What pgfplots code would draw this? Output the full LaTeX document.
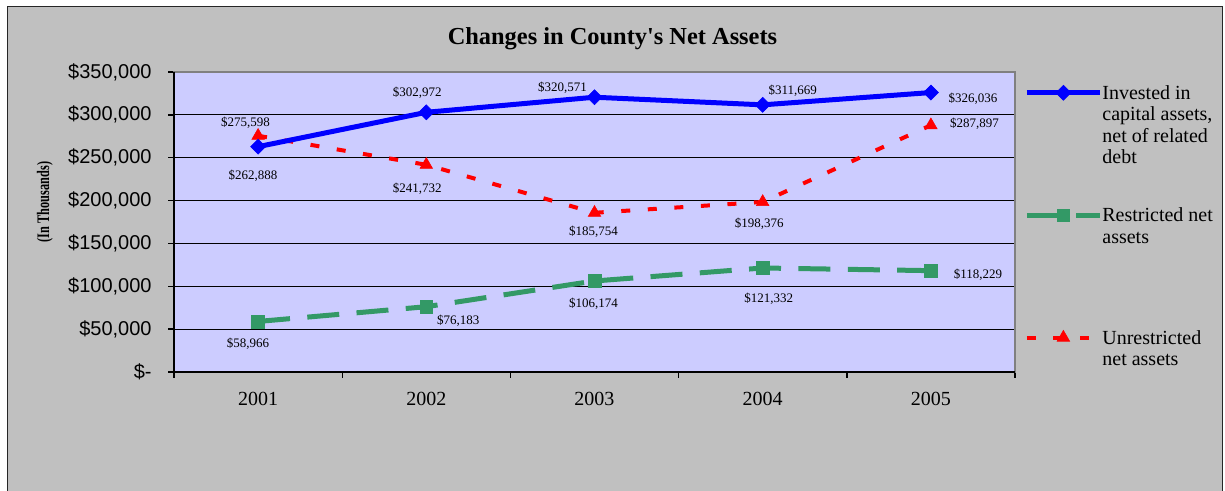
\documentclass[border=0pt]{standalone}
\usepackage{fontspec}
\setmainfont{Liberation Serif}
\newfontfamily\arialfont{Liberation Sans}
\usepackage{pgfplots}
\pgfplotsset{compat=1.18}
\definecolor{bgray}{HTML}{C0C0C0}
\definecolor{plotbg}{HTML}{CCCCFF}
\definecolor{sgreen}{HTML}{339966}
\definecolor{xblue}{HTML}{0000FF}
\definecolor{xred}{HTML}{FF0000}
\tikzset{dl/.style={font=\fontsize{6.5}{7}\selectfont, inner sep=0pt, anchor=center}}
\newcommand{\legtext}[1]{\raisebox{0pt}[9pt][5pt]{\parbox[t]{60pt}{#1}}}
\begin{document}
\begin{tikzpicture}[x=1pt,y=1pt]
\useasboundingbox (0,0) rectangle (612.5,245.5);
\fill[white] (0,0) rectangle (612.5,245.5);
\draw[fill=bgray, draw=black!85, line width=0.8pt] (3.65,-10) rectangle (611.3,242.2);
\node[font=\bfseries\fontsize{12.2}{14}\selectfont, anchor=base, inner sep=0pt] at (306.25,223) {Changes in County\textquotesingle s Net Assets};
\begin{axis}[
  at={(87pt,59.5pt)}, anchor=south west,
  scale only axis, width=420.5pt, height=150pt,
  xmin=0.5, xmax=5.5, ymin=0, ymax=350000,
  xtick={1,2,3,4,5}, xticklabels={2001,2002,2003,2004,2005},
  minor xtick={0.5,1.5,2.5,3.5,4.5,5.5},
  ytick={0,50000,100000,150000,200000,250000,300000,350000},
  yticklabels={{\$-},{\$50,000},{\$100,000},{\$150,000},{\$200,000},{\$250,000},{\$300,000},{\$350,000}},
  scaled y ticks=false,
  tick pos=left, tick align=outside,
  major tick length=3pt, minor tick length=3pt,
  major x tick style={draw=none},
  tick style={black, line width=0.7pt},
  minor tick style={black, line width=0.7pt},
  ymajorgrids, major grid style={black, line width=0.5pt},
  axis background/.style={fill=plotbg},
  axis line style={draw=gray, line width=1pt},
  yticklabel style={font=\arialfont\fontsize{10}{12}\selectfont, inner sep=0pt, xshift=-8pt},
  xticklabel style={font=\fontsize{10}{12}\selectfont, inner sep=0pt, yshift=-7pt},
  ylabel={(In Thousands)},
  every axis y label/.style={at={(axis description cs:-0.1534,0.567)}, rotate=90, xscale=0.7, anchor=center, font=\bfseries\fontsize{8.8}{10}\selectfont, inner sep=0pt},
  clip=false,
  reverse legend,
  legend image code/.code={\draw[mark repeat=2, mark phase=2] plot coordinates {(0pt,3.3pt) (18.25pt,3.3pt) (36.5pt,3.3pt)};},
  legend style={at={(axis description cs:1.0107,0.97)}, anchor=north west, draw=none, fill=none, inner sep=0pt, column sep=0pt, row sep=50.7pt, cells={anchor=base west}, nodes={inner sep=0pt}, font=\fontsize{10}{10.7}\selectfont},
  after end axis/.code={\draw[black, line width=1pt] (rel axis cs:0,1) -- (rel axis cs:0,0) -- (rel axis cs:1,0);},
]
\addplot[xred, line width=2pt, dash pattern=on 4.5pt off 8.8pt, mark=triangle*, mark size=3.6pt, mark options={solid, line width=0.3pt}]
  coordinates {(1,275598) (2,241732) (3,185754) (4,198376) (5,287897)};
\addlegendentry{\legtext{Unrestricted\\net assets}}
\addplot[sgreen, line width=2.5pt, dash pattern=on 16pt off 8.7pt, mark=square*, mark size=3.2pt, mark options={solid, line width=0.3pt}]
  coordinates {(1,58966) (2,76183) (3,106174) (4,121332) (5,118229)};
\addlegendentry{\legtext{Restricted net\\assets}}
\addplot[xblue, line width=2.5pt, mark=square*, mark size=2.65pt, mark options={solid, rotate=45, line width=0.3pt}]
  coordinates {(1,262888) (2,302972) (3,320571) (4,311669) (5,326036)};
\addlegendentry{\legtext{Invested in\\capital assets,\\net of related\\debt}}
% data labels
\node[dl, xshift=-2.5pt, yshift=-14.5pt] at (axis cs:1,262888) {\$262,888};
\node[dl, xshift=-4.5pt, yshift=10pt] at (axis cs:2,302972) {\$302,972};
\node[dl, xshift=-16pt, yshift=4.5pt] at (axis cs:3,320571) {\$320,571};
\node[dl, xshift=15pt, yshift=7pt] at (axis cs:4,311669) {\$311,669};
\node[dl, xshift=21pt, yshift=-3.25pt] at (axis cs:5,326036) {\$326,036};
\node[dl, xshift=-6.25pt, yshift=6.5pt] at (axis cs:1,275598) {\$275,598};
\node[dl, xshift=-4.5pt, yshift=-12pt] at (axis cs:2,241732) {\$241,732};
\node[dl, xshift=-0.5pt, yshift=-9.5pt] at (axis cs:3,185754) {\$185,754};
\node[dl, xshift=-1.75pt, yshift=-11pt] at (axis cs:4,198376) {\$198,376};
\node[dl, xshift=21.75pt, yshift=0.6pt] at (axis cs:5,287897) {\$287,897};
\node[dl, xshift=-5pt, yshift=-11.25pt] at (axis cs:1,58966) {\$58,966};
\node[dl, xshift=16pt, yshift=-7.15pt] at (axis cs:2,76183) {\$76,183};
\node[dl, xshift=-0.5pt, yshift=-11.5pt] at (axis cs:3,106174) {\$106,174};
\node[dl, xshift=3pt, yshift=-15.5pt] at (axis cs:4,121332) {\$121,332};
\node[dl, xshift=23.5pt, yshift=-2.2pt] at (axis cs:5,118229) {\$118,229};
\end{axis}
\end{tikzpicture}
\end{document}
